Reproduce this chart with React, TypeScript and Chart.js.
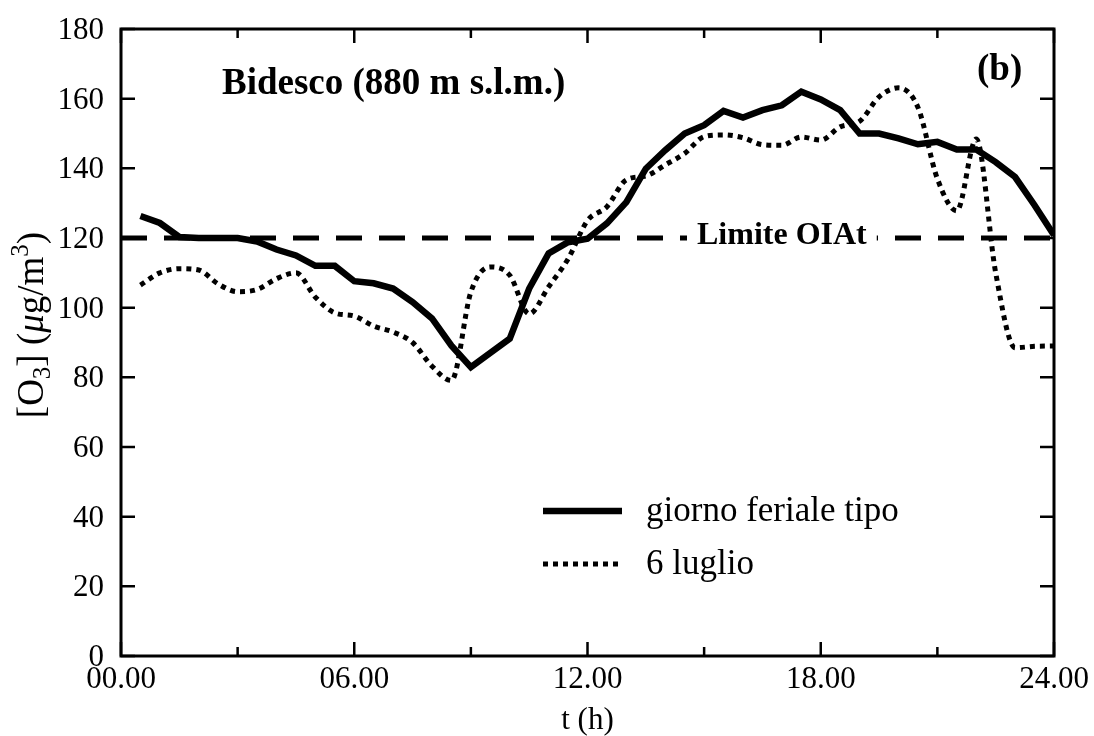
import React, { useEffect, useRef } from 'react';
import { Chart, registerables } from 'chart.js';

Chart.register(...registerables);

// ---- data ----
const hours = [
  0.5, 1, 1.5, 2, 2.5, 3, 3.5, 4, 4.5, 5, 5.5, 6, 6.5, 7, 7.5, 8, 8.5, 9, 9.5, 10, 10.5, 11, 11.5, 12,
  12.5, 13, 13.5, 14, 14.5, 15, 15.5, 16, 16.5, 17, 17.5, 18, 18.5, 19, 19.5, 20, 20.5, 21, 21.5, 22, 22.5, 23, 23.5, 24,
];
const giornoFeriale = [
  126.3, 124.3, 120.3, 120, 120, 120, 119, 116.7, 115, 112, 112, 107.6, 107, 105.5, 101.6, 96.9, 89.1, 82.9, 87, 91.1, 105.5, 115.6, 118.8, 119.8,
  124.2, 130.3, 139.9, 145.2, 150, 152.4, 156.5, 154.6, 156.7, 158.1, 162, 159.8, 156.7, 150, 150, 148.6, 146.9, 147.6, 145.4, 145.4, 141.8, 137.5, 129.4, 120.8,
];
const luglio6 = [
  106.5, 110, 111.2, 110.8, 106.8, 104.6, 105.2, 108.3, 110, 103, 98.5, 97.6, 94.7, 93, 90, 83.2, 79.1, 104.5, 111.7, 109.3, 98.2, 106, 114, 125,
  129, 136.7, 137.8, 141, 144.3, 149.1, 149.6, 148.8, 146.8, 146.6, 149, 148.1, 151.9, 153.5, 160.5, 163.1, 157.5, 137, 127.8, 148.4, 110, 88.5, 88.9, 89,
];
const limitHours = [0, 24];
const limitValues = [120, 120];
const limitLabel = 'Limite OIAt';
const limitLabelHour = 17.0;

const seriesNames = ['giorno feriale tipo', '6 luglio'];
const yTicks = [0, 20, 40, 60, 80, 100, 120, 140, 160, 180];
const xTicks = [0, 3, 6, 9, 12, 15, 18, 21, 24];
const xTickLabels = ['00.00', '', '06.00', '', '12.00', '', '18.00', '', '24.00'];
const titleText = 'Bidesco (880 m s.l.m.)';
const panelText = '(b)';
const xTitle = 't (h)';

const SERIF = '"Liberation Serif", "Times New Roman", serif';

const overlayPlugin = {
  id: 'overlay',
  afterDatasetsDraw(chart: any) {
    const ctx: CanvasRenderingContext2D = chart.ctx;
    const xs = chart.scales.x;
    const ys = chart.scales.y;
    const { left, right, top, bottom } = chart.chartArea;
    ctx.save();
    ctx.fillStyle = '#000';
    ctx.strokeStyle = '#000';

    // limit label with white background
    ctx.font = `bold 32px ${SERIF}`;
    const ly = ys.getPixelForValue(limitValues[0]);
    const lx = xs.getPixelForValue(limitLabelHour);
    const lw = ctx.measureText(limitLabel).width;
    ctx.fillStyle = '#fff';
    ctx.fillRect(lx - lw / 2 - 10, ly - 6, lw + 20, 12);
    ctx.fillStyle = '#000';
    ctx.textAlign = 'center';
    ctx.textBaseline = 'alphabetic';
    ctx.fillText(limitLabel, lx, ly + 6);

    // frame
    ctx.lineWidth = 3;
    ctx.strokeRect(left, top, right - left, bottom - top);

    // ticks
    ctx.lineWidth = 2.5;
    ctx.beginPath();
    yTicks.forEach((v) => {
      const y = ys.getPixelForValue(v);
      ctx.moveTo(left, y);
      ctx.lineTo(left + 14, y);
      ctx.moveTo(right, y);
      ctx.lineTo(right - 14, y);
    });
    xTicks.forEach((v) => {
      const x = xs.getPixelForValue(v);
      const len = v % 6 === 0 ? 14 : 9;
      ctx.moveTo(x, bottom);
      ctx.lineTo(x, bottom - len);
      ctx.moveTo(x, top);
      ctx.lineTo(x, top + len);
    });
    ctx.stroke();

    // tick labels
    ctx.font = `31px ${SERIF}`;
    ctx.textAlign = 'right';
    ctx.textBaseline = 'alphabetic';
    yTicks.forEach((v) => {
      ctx.fillText(String(v), left - 17, ys.getPixelForValue(v) + 10);
    });
    ctx.textAlign = 'center';
    xTicks.forEach((v, i) => {
      if (xTickLabels[i]) ctx.fillText(xTickLabels[i], xs.getPixelForValue(v), bottom + 32);
    });

    // x title
    ctx.font = `31px ${SERIF}`;
    ctx.fillText(xTitle, (left + right) / 2, bottom + 73);

    // y title (rotated, with sub/superscripts)
    ctx.save();
    ctx.translate(43, 325);
    ctx.rotate(-Math.PI / 2);
    const big = `37px ${SERIF}`;
    const small = `25px ${SERIF}`;
    const ital = `italic 37px ${SERIF}`;
    const parts: [string, string, number][] = [
      ['[O', big, 0],
      ['3', small, 7],
      ['] (', big, 0],
      ['\u03bc', ital, 0],
      ['g/m', big, 0],
      ['3', small, -15],
      [')', big, 0],
    ];
    let total = 0;
    parts.forEach(([t, f]) => {
      ctx.font = f;
      total += ctx.measureText(t).width;
    });
    let cx = -total / 2;
    ctx.textAlign = 'left';
    parts.forEach(([t, f, dy]) => {
      ctx.font = f;
      ctx.fillText(t, cx, dy);
      cx += ctx.measureText(t).width;
    });
    ctx.restore();

    // title and panel letter
    ctx.textAlign = 'left';
    ctx.font = `bold 37px ${SERIF}`;
    ctx.fillText(titleText, 222, 94);
    ctx.font = `bold 37px ${SERIF}`;
    ctx.fillText(panelText, 977, 80);

    // legend
    const ds = chart.data.datasets;
    const legendRows = [511, 564];
    [0, 1].forEach((k) => {
      const d = ds[k];
      const y = legendRows[k];
      ctx.save();
      ctx.lineWidth = d.borderWidth;
      ctx.setLineDash(d.borderDash || []);
      ctx.lineCap = 'butt';
      ctx.beginPath();
      ctx.moveTo(543, y);
      ctx.lineTo(622, y);
      ctx.stroke();
      ctx.restore();
      ctx.font = `35px ${SERIF}`;
      ctx.textAlign = 'left';
      ctx.fillText(seriesNames[k], 646, y + 10);
    });

    ctx.restore();
  },
};

export default function App() {
  const ref = useRef<HTMLCanvasElement | null>(null);
  useEffect(() => {
    if (!ref.current) return;
    const chart = new Chart(ref.current, {
      type: 'line',
      data: {
        datasets: [
          {
            label: seriesNames[0],
            data: hours.map((h, i) => ({ x: h, y: giornoFeriale[i] })),
            borderColor: '#000',
            borderWidth: 6.5,
            pointRadius: 0,
            tension: 0,
            fill: false,
          },
          {
            label: seriesNames[1],
            data: hours.map((h, i) => ({ x: h, y: luglio6[i] })),
            borderColor: '#000',
            borderWidth: 5,
            borderDash: [5, 5],
            borderCapStyle: 'butt',
            pointRadius: 0,
            cubicInterpolationMode: 'monotone',
            fill: false,
          },
          {
            label: limitLabel,
            data: limitHours.map((h, i) => ({ x: h, y: limitValues[i] })),
            borderColor: '#000',
            borderWidth: 5,
            borderDash: [26, 17],
            pointRadius: 0,
            fill: false,
          },
        ],
      },
      options: {
        responsive: false,
        animation: false,
        layout: { padding: { left: 121, right: 40, top: 29, bottom: 80 } },
        scales: {
          x: { type: 'linear', min: 0, max: 24, display: false },
          y: { type: 'linear', min: 0, max: 180, display: false },
        },
        plugins: { legend: { display: false }, tooltip: { enabled: false } },
      },
      plugins: [overlayPlugin],
    } as any);
    return () => chart.destroy();
  }, []);
  return (
    <div style={{ position: 'absolute', left: 0, top: 0, width: 1094, height: 736, background: '#fff' }}>
      <canvas ref={ref} width={1094} height={736} style={{ width: 1094, height: 736, display: 'block' }} />
    </div>
  );
}
